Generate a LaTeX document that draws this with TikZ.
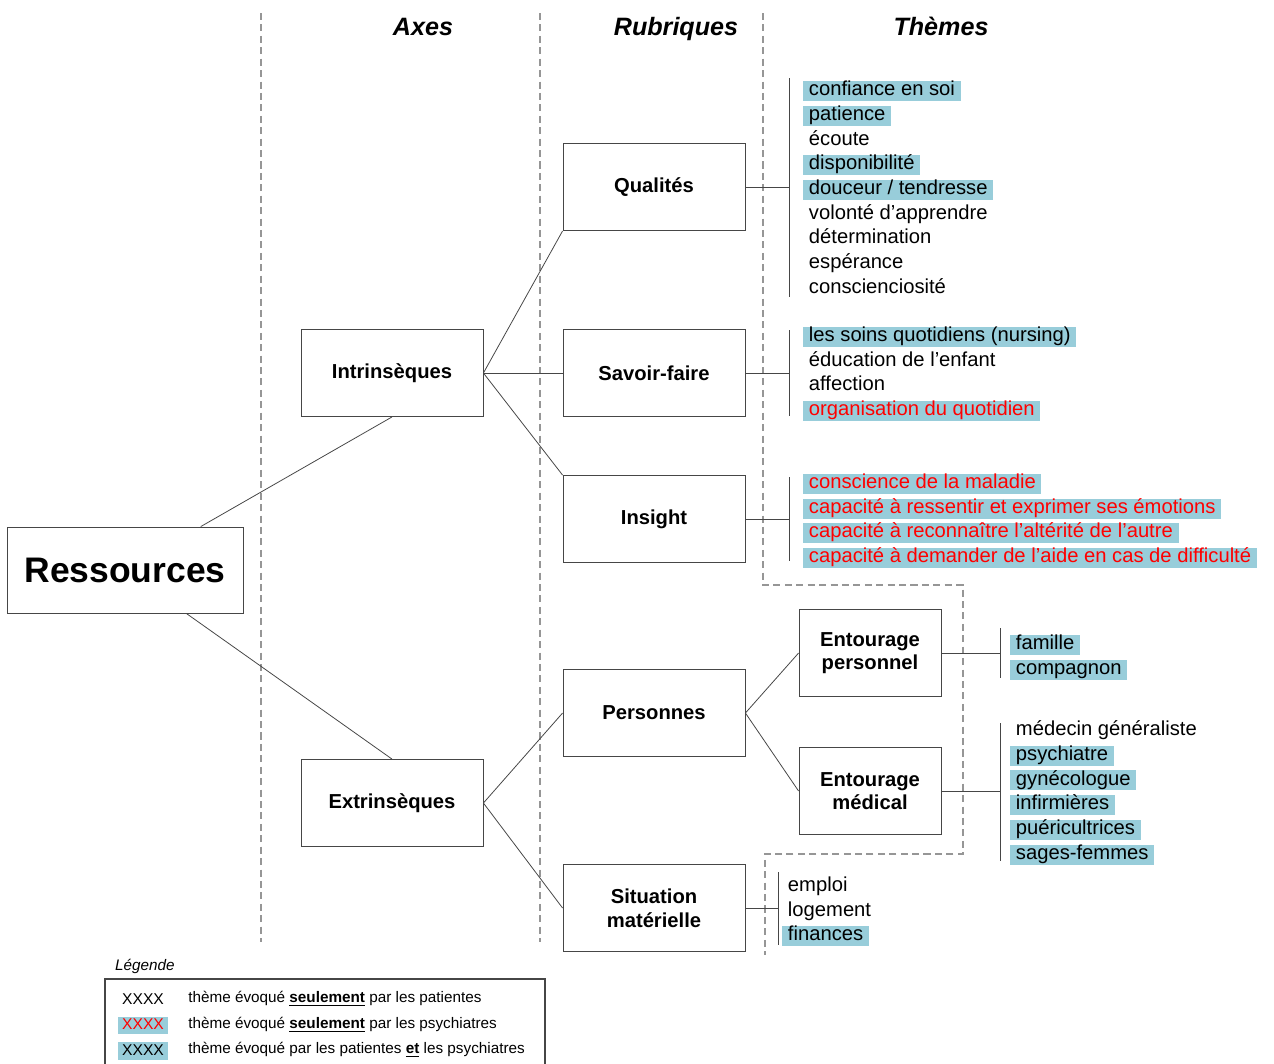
\documentclass[tikz,border=0pt]{standalone}
\usepackage{fontspec}
\setmainfont{Liberation Sans}
\usetikzlibrary{calc}

\definecolor{hlblue}{RGB}{152,205,218}
\definecolor{boxgray}{RGB}{70,70,70}
\definecolor{sepgray}{RGB}{150,150,150}

\tikzset{
    box/.style={draw=boxgray,line width=0.5pt,minimum width=3.64cm,minimum height=1.74cm,
        align=center,font=\fontsize{11.5}{13.5}\selectfont\bfseries,inner sep=0pt},
    link/.style={boxgray,line width=0.45pt},
    theme/.style={anchor=west,inner xsep=3.2pt,inner ysep=0.4pt,text height=8pt,text depth=2.6pt,
        font=\fontsize{11.5}{13.5}\selectfont},
    pat/.style={theme},
    psy/.style={theme,fill=hlblue,text=red},
    both/.style={theme,fill=hlblue},
    sep/.style={sepgray,dashed,line width=0.6pt,dash pattern=on 4pt off 2.5pt},
    head/.style={anchor=base,font=\fontsize{14.3}{16}\selectfont\bfseries\itshape}
}

\begin{document}
\begin{tikzpicture}[x=0.02cm,y=-0.02cm,line cap=butt,line join=miter]
    \useasboundingbox (0,0) rectangle (1274,1063);

    % separateurs
    \draw[sep] (261,13) -- (261,942);
    \draw[sep] (540,13) -- (540,942);
    \draw[sep] (763,13) -- (763,585) -- (963,585) -- (963,854) -- (765,854) -- (765,955);

    \node[head] at (423,35) {Axes};
    \node[head] at (676,35) {Rubriques};
    \node[head] at (941,35) {Thèmes};

    % boites
    \node[box,minimum width=4.72cm,minimum height=1.72cm,font=\fontsize{20.2}{22}\selectfont\bfseries]
        (res) at (125,570) {Ressources};
    \node[box] (intr) at (392,373) {Intrinsèques};
    \node[box] (extr) at (392,803) {Extrinsèques};
    \node[box] (qual) at (654,187) {Qualités};
    \node[box] (savf) at (654,373) {Savoir-faire};
    \node[box] (insi) at (654,519) {Insight};
    \node[box] (pers) at (654,713) {Personnes};
    \node[box] (situ) at (654,908) {Situation\\matérielle};
    \node[box,minimum width=2.84cm] (eper) at (870,653) {Entourage\\personnel};
    \node[box,minimum width=2.84cm] (emed) at (870,791) {Entourage\\médical};

    \draw[link] (intr.south) -- (res);
    \draw[link] (extr.north) -- (res);
    \draw[link] (intr.east) -- (qual.south west);
    \draw[link] (intr.east) -- (savf.west);
    \draw[link] (intr.east) -- (insi.north west);
    \draw[link] (extr.east) -- (pers.west);
    \draw[link] (extr.east) -- (situ.west);
    \draw[link] (pers.east) -- (eper.west);
    \draw[link] (pers.east) -- (emed.west);

    % accolades
    \coordinate (qualT) at (789,78);   \coordinate (qualB) at (789,297);
    \coordinate (savfT) at (789,330);  \coordinate (savfB) at (789,416);
    \coordinate (insiT) at (789,477);  \coordinate (insiB) at (789,561);
    \coordinate (eperT) at (1000,628); \coordinate (eperB) at (1000,678);
    \coordinate (emedT) at (1000,723); \coordinate (emedB) at (1000,861);
    \coordinate (situT) at (778,872);  \coordinate (situB) at (778,945);
    \foreach \b in {qual,savf,insi,eper,emed,situ} {
        \draw[link] (\b T) -- (\b B);
        \draw[link] (\b.east) -- (\b.east -| \b T);
    }

    % themes
    \foreach \txt/\st [count=\i] in {confiance en soi/both,patience/both,écoute/pat,
        disponibilité/both,{douceur / tendresse}/both,volonté d’apprendre/pat,
        détermination/pat,espérance/pat,conscienciosité/pat} {
        \node[\st] (qual-\i) at (803,{91+24.7*(\i-1)}) {\txt};
    }
    \foreach \txt/\st [count=\i] in {les soins quotidiens (nursing)/both,
        éducation de l’enfant/pat,affection/pat,organisation du quotidien/psy} {
        \node[\st] (savf-\i) at (803,{337+24.6*(\i-1)}) {\txt};
    }
    \foreach \txt/\st [count=\i] in {conscience de la maladie/psy,
        capacité à ressentir et exprimer ses émotions/psy,
        capacité à reconnaître l’altérité de l’autre/psy,
        capacité à demander de l’aide en cas de difficulté/psy} {
        \node[\st] (insi-\i) at (803,{484+24.6*(\i-1)}) {\txt};
    }
    \foreach \txt/\st [count=\i] in {famille/both,compagnon/both} {
        \node[\st] (eper-\i) at (1010,{645+24.7*(\i-1)}) {\txt};
    }
    \foreach \txt/\st [count=\i] in {médecin généraliste/pat,psychiatre/both,
        gynécologue/both,infirmières/both,puéricultrices/both,sages-femmes/both} {
        \node[\st] (emed-\i) at (1010,{731+24.7*(\i-1)}) {\txt};
    }
    \foreach \txt/\st [count=\i] in {emploi/pat,logement/pat,finances/both} {
        \node[\st] (situ-\i) at (782,{887+24.6*(\i-1)}) {\txt};
    }

    % legende
    \node[anchor=west,font=\fontsize{8.7}{10}\selectfont\itshape] (leg) at (109,966) {Légende};
    \draw[boxgray,line width=1pt] (105,1075) -- (105,979) -- (545,979) -- (545,1075);
    \foreach \st/\txt [count=\i] in {pat/{thème évoqué \textbf{\underline{seulement}} par les patientes},
        psy/{thème évoqué \textbf{\underline{seulement}} par les psychiatres},
        both/{thème évoqué par les patientes \textbf{\underline{et}} les psychiatres}} {
        \node[\st,anchor=center,font=\fontsize{8.9}{10}\selectfont,inner xsep=2.2pt,
            text height=7pt,text depth=2.2pt] (legx-\i)
            at (143,{1000+25.5*(\i-1)}) {XXXX};
        \node[anchor=west,font=\fontsize{8.7}{10}\selectfont,inner sep=0pt] (legt-\i)
            at (188,{999+25.5*(\i-1)}) {\txt};
    }
\end{tikzpicture}
\end{document}
